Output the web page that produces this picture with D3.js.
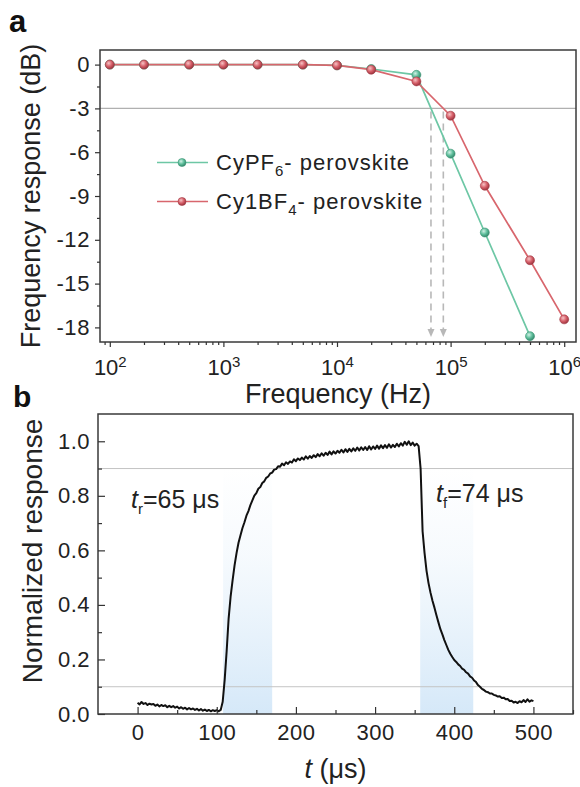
<!DOCTYPE html>
<html>
<head>
<meta charset="utf-8">
<script src="https://cdn.jsdelivr.net/npm/d3@7"></script>
<style>
  body { margin: 0; background: #fff; }
  svg { display: block; font-family: 'Liberation Sans', Arial, sans-serif; }
</style>
</head>
<body>
<svg id="chart" width="580" height="787"></svg>
<script>
// ---- panel a data: frequency response (dB)
const freqHz = [100, 200, 500, 1e3, 2e3, 5e3, 1e4, 2e4, 5e4, 1e5, 2e5, 5e5, 1e6]
const respCyPF6 = [0, 0, 0, 0, 0, 0, -0.05, -0.3, -0.7, -6.1, -11.5, -18.6, null]
const respCy1BF4 = [0, 0, 0, 0, 0, 0, -0.05, -0.35, -1.15, -3.5, -8.3, -13.4, -17.45]
const seriesNames = ['CyPF6', 'Cy1BF4']
const dbTicks = [0, -3, -6, -9, -12, -15, -18]
const decadeTicks = [1e2, 1e3, 1e4, 1e5, 1e6]
const cutoffLevel = -3

// ---- panel b data: normalized transient response, sampled every 2.5 us from t = 0
const traceStart = 0
const traceStep = 2.5
const traceValues = [
  0.041, 0.035, 0.044, 0.037, 0.040, 0.033, 0.038, 0.035, 0.037, 0.030,
  0.035, 0.028, 0.033, 0.029, 0.032, 0.025, 0.030, 0.025, 0.029, 0.023,
  0.027, 0.020, 0.025, 0.019, 0.023, 0.017, 0.022, 0.017, 0.020, 0.015,
  0.019, 0.013, 0.018, 0.012, 0.016, 0.011, 0.015, 0.010, 0.014, 0.011,
  0.014, 0.010, 0.015, 0.045, 0.125, 0.23, 0.35, 0.43, 0.49, 0.545,
  0.59, 0.628, 0.655, 0.682, 0.703, 0.727, 0.744, 0.766, 0.783, 0.801,
  0.81, 0.826, 0.832, 0.847, 0.853, 0.866, 0.871, 0.882, 0.885, 0.896,
  0.898, 0.908, 0.907, 0.918, 0.912, 0.923, 0.917, 0.926, 0.922, 0.934,
  0.927, 0.937, 0.931, 0.940, 0.933, 0.945, 0.936, 0.946, 0.939, 0.949,
  0.942, 0.953, 0.945, 0.956, 0.947, 0.958, 0.950, 0.962, 0.952, 0.963,
  0.955, 0.965, 0.958, 0.969, 0.959, 0.971, 0.961, 0.972, 0.963, 0.974,
  0.965, 0.977, 0.966, 0.978, 0.968, 0.979, 0.968, 0.982, 0.970, 0.981,
  0.972, 0.984, 0.973, 0.985, 0.975, 0.986, 0.976, 0.989, 0.977, 0.987,
  0.979, 0.991, 0.981, 0.993, 0.984, 0.998, 0.987, 1.000, 0.986, 0.995,
  0.984, 0.991, 0.982, 0.90, 0.67, 0.59, 0.525, 0.48, 0.445, 0.415,
  0.39, 0.362, 0.336, 0.311, 0.292, 0.271, 0.253, 0.235, 0.221, 0.209,
  0.198, 0.191, 0.182, 0.176, 0.166, 0.162, 0.153, 0.148, 0.138, 0.133,
  0.123, 0.117, 0.106, 0.100, 0.092, 0.088, 0.082, 0.080, 0.075, 0.075,
  0.070, 0.068, 0.064, 0.065, 0.059, 0.060, 0.054, 0.055, 0.048, 0.049,
  0.042, 0.045, 0.040, 0.047, 0.043, 0.051, 0.044, 0.054, 0.045, 0.050,
  0.047
]
const timeTicks = [0, 100, 200, 300, 400, 500]
const normTicks = [0, 0.2, 0.4, 0.6, 0.8, 1.0]
const riseWindow = [108, 170]
const fallWindow = [357, 424]
const riseTime = 65
const fallTime = 74
const refLevels = [0.9, 0.1]

const svg = d3.select('#chart')
const defs = svg.append('defs')
const font = "'Liberation Sans', Arial, sans-serif"

// shaded balls for the markers
function ballGrad(id, light, base, dark) {
  let g = defs.append('radialGradient').attr('id', id)
    .attr('cx', '38%').attr('cy', '35%').attr('r', '65%')
  g.append('stop').attr('offset', '0%').attr('stop-color', light)
  g.append('stop').attr('offset', '55%').attr('stop-color', base)
  g.append('stop').attr('offset', '100%').attr('stop-color', dark)
}
ballGrad('ballGreen', '#d2f1e6', '#5fbf9c', '#35896c')
ballGrad('ballRed', '#f6c3c5', '#d65f69', '#9e3540')

// ================= panel a =================
let A = { left: 100, right: 576, top: 50, bottom: 342 }
let xA = d3.scaleLog().domain([82, 1.27e6]).range([A.left, A.right])
let yA = d3.scaleLinear().domain([-19, 1]).range([A.bottom, A.top])

let minorLog = []
for (let e = 1; e <= 6; e++) {
  for (let m = 2; m <= 9; m++) {
    let v = m * Math.pow(10, e)
    if (v >= 82 && v <= 1.27e6) minorLog.push(v)
  }
}
let minorDb = dbTicks.map(d => d - 1.5).filter(d => d >= -19)

// cutoff line at -3 dB
svg.append('line')
  .attr('x1', A.left).attr('x2', A.right)
  .attr('y1', yA(cutoffLevel)).attr('y2', yA(cutoffLevel))
  .attr('stroke', '#b0b0b0').attr('stroke-width', 1.2)

// -3 dB crossing of each series (log-linear interpolation)
function crossing(vals) {
  for (let i = 1; i < vals.length; i++) {
    if (vals[i] != null && vals[i] <= cutoffLevel && vals[i - 1] > cutoffLevel) {
      let f = (cutoffLevel - vals[i - 1]) / (vals[i] - vals[i - 1])
      let l0 = Math.log10(freqHz[i - 1]), l1 = Math.log10(freqHz[i])
      return Math.pow(10, l0 + f * (l1 - l0))
    }
  }
}
let tipY = A.bottom - 5
;[respCyPF6, respCy1BF4].forEach(vals => {
  let fx = xA(crossing(vals))
  svg.append('line')
    .attr('x1', fx).attr('x2', fx)
    .attr('y1', yA(cutoffLevel) + 3).attr('y2', tipY - 6)
    .attr('stroke', '#b8b8b8').attr('stroke-width', 1.6)
    .attr('stroke-dasharray', '7,5')
  svg.append('path')
    .attr('d', `M${fx - 3.5},${tipY - 8} L${fx + 3.5},${tipY - 8} L${fx},${tipY} Z`)
    .attr('fill', '#b8b8b8')
})

let lineA = d3.line()
  .defined(d => d.v != null)
  .x(d => xA(d.f))
  .y(d => yA(d.v))

let seriesA = [
  { name: seriesNames[0], vals: respCyPF6, stroke: '#6dc7a5', ball: 'url(#ballGreen)', edge: '#3d9676' },
  { name: seriesNames[1], vals: respCy1BF4, stroke: '#d8666d', ball: 'url(#ballRed)', edge: '#a23a44' }
]
seriesA.forEach(s => {
  let pts = freqHz.map((f, i) => ({ f: f, v: s.vals[i] }))
  svg.append('path')
    .attr('d', lineA(pts))
    .attr('fill', 'none')
    .attr('stroke', s.stroke)
    .attr('stroke-width', 1.7)
  s.pts = pts
})
seriesA.forEach(s => {
  svg.append('g').selectAll('circle')
    .data(s.pts.filter(d => d.v != null))
    .join('circle')
    .attr('cx', d => xA(d.f))
    .attr('cy', d => yA(d.v))
    .attr('r', 4.5)
    .attr('fill', s.ball)
    .attr('stroke', s.edge)
    .attr('stroke-width', 0.6)
})

// frame
svg.append('rect')
  .attr('x', A.left).attr('y', A.top)
  .attr('width', A.right - A.left).attr('height', A.bottom - A.top)
  .attr('fill', 'none').attr('stroke', '#3a3a3a').attr('stroke-width', 1.5)

// axes a
function styleAxis(g, size) {
  g.attr('font-family', font).attr('font-size', size)
  g.select('.domain').remove()
  g.selectAll('.tick line').attr('stroke', '#333').attr('stroke-width', 1.2)
  g.selectAll('.tick text').attr('fill', '#222')
}

svg.append('g')
  .attr('transform', `translate(${A.left},0)`)
  .call(d3.axisLeft(yA).tickValues(dbTicks).tickSize(5).tickPadding(5).tickFormat(d => d))
  .call(g => styleAxis(g, 22))
  .call(g => g.selectAll('.tick text').attr('letter-spacing', 0.6))
svg.append('g')
  .attr('transform', `translate(${A.left},0)`)
  .call(d3.axisLeft(yA).tickValues(minorDb).tickSize(3).tickFormat(''))
  .call(g => styleAxis(g, 22))

svg.append('g')
  .attr('transform', `translate(0,${A.bottom})`)
  .call(d3.axisBottom(xA).tickValues(decadeTicks).tickSize(5).tickPadding(12).tickFormat(''))
  .call(g => styleAxis(g, 22))
  .call(g => g.selectAll('.tick text').each(function (d) {
    let t = d3.select(this)
    t.append('tspan').text('10')
    t.append('tspan').attr('dy', '-0.5em').attr('font-size', 15).text(Math.round(Math.log10(d)))
  }))
svg.append('g')
  .attr('transform', `translate(0,${A.bottom})`)
  .call(d3.axisBottom(xA).tickValues(minorLog).tickSize(3).tickFormat(''))
  .call(g => styleAxis(g, 22))

// titles a
svg.append('text')
  .attr('transform', `translate(40,${(A.top + A.bottom) / 2}) rotate(-90)`)
  .attr('text-anchor', 'middle')
  .attr('font-size', 27).attr('fill', '#222')
  .text('Frequency response (dB)')
svg.append('text')
  .attr('x', (A.left + A.right) / 2).attr('y', 403)
  .attr('text-anchor', 'middle')
  .attr('font-size', 27).attr('fill', '#222')
  .text('Frequency (Hz)')
svg.append('text')
  .attr('x', 9).attr('y', 32)
  .attr('font-size', 31).attr('font-weight', 'bold').attr('fill', '#111')
  .text('a')

// legend
let legendItems = [
  { base: 'CyPF', sub: '6', s: seriesA[0], y: 162.5 },
  { base: 'Cy1BF', sub: '4', s: seriesA[1], y: 201.5 }
]
legendItems.forEach(it => {
  svg.append('line')
    .attr('x1', 157).attr('x2', 208).attr('y1', it.y).attr('y2', it.y)
    .attr('stroke', it.s.stroke).attr('stroke-width', 1.7)
  svg.append('circle')
    .attr('cx', 182).attr('cy', it.y).attr('r', 4)
    .attr('fill', it.s.ball).attr('stroke', it.s.edge).attr('stroke-width', 0.6)
  let t = svg.append('text')
    .attr('x', 216).attr('y', it.y + 7.5)
    .attr('font-size', 22).attr('letter-spacing', 1).attr('fill', '#222')
  t.append('tspan').text(it.base)
  t.append('tspan').attr('dy', 6).attr('font-size', 15).text(it.sub)
  t.append('tspan').attr('dy', -6).text('- perovskite')
})

// ================= panel b =================
let B = { left: 98, right: 573, top: 414, bottom: 714 }
let xB = d3.scaleLinear().domain([-50, 550]).range([B.left, B.right])
let yB = d3.scaleLinear().domain([0, 1.1]).range([B.bottom, B.top])

let trace = traceValues.map((v, i) => ({ t: traceStart + i * traceStep, v: v }))

// light blue fade for the 10-90 % windows
let shade = defs.append('linearGradient').attr('id', 'shadeBlue')
  .attr('x1', '0%').attr('y1', '0%').attr('x2', '0%').attr('y2', '100%')
shade.append('stop').attr('offset', '0%').attr('stop-color', '#dcecf9').attr('stop-opacity', 0)
shade.append('stop').attr('offset', '35%').attr('stop-color', '#dcecf9').attr('stop-opacity', 0.25)
shade.append('stop').attr('offset', '100%').attr('stop-color', '#d3e7f8').attr('stop-opacity', 0.95)

;[riseWindow, fallWindow].forEach(w => {
  svg.append('rect')
    .attr('x', xB(w[0])).attr('width', xB(w[1]) - xB(w[0]))
    .attr('y', yB(refLevels[0])).attr('height', yB(0) - yB(refLevels[0]))
    .attr('fill', 'url(#shadeBlue)')
})

refLevels.forEach(l => {
  svg.append('line')
    .attr('x1', B.left).attr('x2', B.right)
    .attr('y1', yB(l)).attr('y2', yB(l))
    .attr('stroke', '#c4c4c4').attr('stroke-width', 1)
})

svg.append('path')
  .attr('d', d3.line().x(d => xB(d.t)).y(d => yB(d.v))(trace))
  .attr('fill', 'none')
  .attr('stroke', '#111')
  .attr('stroke-width', 2)
  .attr('stroke-linejoin', 'round')

svg.append('rect')
  .attr('x', B.left).attr('y', B.top)
  .attr('width', B.right - B.left).attr('height', B.bottom - B.top)
  .attr('fill', 'none').attr('stroke', '#3a3a3a').attr('stroke-width', 1.5)

svg.append('g')
  .attr('transform', `translate(${B.left},0)`)
  .call(d3.axisLeft(yB).tickValues(normTicks).tickSize(-7).tickPadding(8).tickFormat(d3.format('.1f')))
  .call(g => styleAxis(g, 22))
  .call(g => g.selectAll('.tick text').attr('letter-spacing', 0.5))
svg.append('g')
  .attr('transform', `translate(${B.left},0)`)
  .call(d3.axisLeft(yB).tickValues(normTicks.map(d => d + 0.1).filter(d => d < 1.1)).tickSize(-4).tickFormat(''))
  .call(g => styleAxis(g, 22))

svg.append('g')
  .attr('transform', `translate(0,${B.bottom})`)
  .call(d3.axisBottom(xB).tickValues(timeTicks).tickSize(-7).tickPadding(10).tickFormat(d => d))
  .call(g => styleAxis(g, 22))
  .call(g => g.selectAll('.tick text').attr('letter-spacing', 0.5))
svg.append('g')
  .attr('transform', `translate(0,${B.bottom})`)
  .call(d3.axisBottom(xB).tickValues(timeTicks.map(d => d + 50)).tickSize(-4).tickFormat(''))
  .call(g => styleAxis(g, 22))

// titles b
svg.append('text')
  .attr('transform', `translate(42,551) rotate(-90)`)
  .attr('text-anchor', 'middle')
  .attr('font-size', 28).attr('fill', '#222')
  .text('Normalized response')
let xt = svg.append('text')
  .attr('x', (B.left + B.right) / 2).attr('y', 778)
  .attr('text-anchor', 'middle')
  .attr('font-size', 27).attr('fill', '#222')
xt.append('tspan').attr('font-style', 'italic').text('t')
xt.append('tspan').text(' (\u03bcs)')
svg.append('text')
  .attr('x', 13).attr('y', 407)
  .attr('font-size', 30).attr('font-weight', 'bold').attr('fill', '#111')
  .text('b')

// rise / fall annotations
function timeLabel(x, y, sub, val) {
  let t = svg.append('text').attr('x', x).attr('y', y)
    .attr('font-size', 25).attr('fill', '#222')
  t.append('tspan').attr('font-style', 'italic').text('t')
  t.append('tspan').attr('dy', 6).attr('font-size', 15).text(sub)
  t.append('tspan').attr('dy', -6).text('=' + val + ' \u03bcs')
}
timeLabel(131, 508, 'r', riseTime)
timeLabel(436, 502, 'f', fallTime)
</script>
</body>
</html>
